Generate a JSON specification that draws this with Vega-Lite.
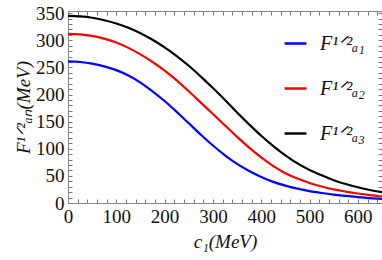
{
  "$schema": "https://vega.github.io/schema/vega-lite/v6.json",
  "width": 314,
  "height": 192,
  "autosize": {"type": "none"},
  "padding": {"left": 68, "top": 11, "right": 0, "bottom": 57},
  "background": "white",
  "config": {
    "font": "Liberation Serif",
    "view": {"stroke": null},
    "axis": {
      "labelFont": "Liberation Serif",
      "labelFontSize": 19,
      "labelColor": "#111",
      "titleFont": "Liberation Serif",
      "titleFontSize": 19,
      "titleFontStyle": "italic",
      "titleFontWeight": "normal",
      "titleColor": "#111",
      "domainColor": "#888",
      "tickColor": "#777",
      "tickWidth": 1,
      "grid": false
    }
  },
  "data": {
    "values": [
      {"c": 0, "F": 261, "s": "F¹ᐟ²ₐ₁"}, {"c": 25, "F": 260, "s": "F¹ᐟ²ₐ₁"}, {"c": 50, "F": 257, "s": "F¹ᐟ²ₐ₁"}, {"c": 75, "F": 252, "s": "F¹ᐟ²ₐ₁"}, {"c": 100, "F": 245, "s": "F¹ᐟ²ₐ₁"}, {"c": 125, "F": 235, "s": "F¹ᐟ²ₐ₁"}, {"c": 150, "F": 222, "s": "F¹ᐟ²ₐ₁"}, {"c": 175, "F": 206, "s": "F¹ᐟ²ₐ₁"}, {"c": 200, "F": 188, "s": "F¹ᐟ²ₐ₁"}, {"c": 225, "F": 168, "s": "F¹ᐟ²ₐ₁"}, {"c": 250, "F": 147, "s": "F¹ᐟ²ₐ₁"}, {"c": 275, "F": 126, "s": "F¹ᐟ²ₐ₁"}, {"c": 300, "F": 106, "s": "F¹ᐟ²ₐ₁"}, {"c": 325, "F": 88, "s": "F¹ᐟ²ₐ₁"}, {"c": 350, "F": 72, "s": "F¹ᐟ²ₐ₁"}, {"c": 375, "F": 59, "s": "F¹ᐟ²ₐ₁"}, {"c": 400, "F": 48, "s": "F¹ᐟ²ₐ₁"}, {"c": 425, "F": 39, "s": "F¹ᐟ²ₐ₁"}, {"c": 450, "F": 32, "s": "F¹ᐟ²ₐ₁"}, {"c": 475, "F": 26.5, "s": "F¹ᐟ²ₐ₁"}, {"c": 500, "F": 22, "s": "F¹ᐟ²ₐ₁"}, {"c": 525, "F": 18.5, "s": "F¹ᐟ²ₐ₁"}, {"c": 550, "F": 15.5, "s": "F¹ᐟ²ₐ₁"}, {"c": 575, "F": 13, "s": "F¹ᐟ²ₐ₁"}, {"c": 600, "F": 11, "s": "F¹ᐟ²ₐ₁"}, {"c": 625, "F": 9, "s": "F¹ᐟ²ₐ₁"}, {"c": 650, "F": 7.5, "s": "F¹ᐟ²ₐ₁"},
      {"c": 0, "F": 312, "s": "F¹ᐟ²ₐ₂"}, {"c": 25, "F": 311, "s": "F¹ᐟ²ₐ₂"}, {"c": 50, "F": 308, "s": "F¹ᐟ²ₐ₂"}, {"c": 75, "F": 303, "s": "F¹ᐟ²ₐ₂"}, {"c": 100, "F": 296, "s": "F¹ᐟ²ₐ₂"}, {"c": 125, "F": 286, "s": "F¹ᐟ²ₐ₂"}, {"c": 150, "F": 274, "s": "F¹ᐟ²ₐ₂"}, {"c": 175, "F": 260, "s": "F¹ᐟ²ₐ₂"}, {"c": 200, "F": 244, "s": "F¹ᐟ²ₐ₂"}, {"c": 225, "F": 226, "s": "F¹ᐟ²ₐ₂"}, {"c": 250, "F": 206, "s": "F¹ᐟ²ₐ₂"}, {"c": 275, "F": 185, "s": "F¹ᐟ²ₐ₂"}, {"c": 300, "F": 164, "s": "F¹ᐟ²ₐ₂"}, {"c": 325, "F": 143, "s": "F¹ᐟ²ₐ₂"}, {"c": 350, "F": 122, "s": "F¹ᐟ²ₐ₂"}, {"c": 375, "F": 102, "s": "F¹ᐟ²ₐ₂"}, {"c": 400, "F": 84, "s": "F¹ᐟ²ₐ₂"}, {"c": 425, "F": 68, "s": "F¹ᐟ²ₐ₂"}, {"c": 450, "F": 55, "s": "F¹ᐟ²ₐ₂"}, {"c": 475, "F": 45, "s": "F¹ᐟ²ₐ₂"}, {"c": 500, "F": 37, "s": "F¹ᐟ²ₐ₂"}, {"c": 525, "F": 30.5, "s": "F¹ᐟ²ₐ₂"}, {"c": 550, "F": 25, "s": "F¹ᐟ²ₐ₂"}, {"c": 575, "F": 21, "s": "F¹ᐟ²ₐ₂"}, {"c": 600, "F": 17.5, "s": "F¹ᐟ²ₐ₂"}, {"c": 625, "F": 14.5, "s": "F¹ᐟ²ₐ₂"}, {"c": 650, "F": 12, "s": "F¹ᐟ²ₐ₂"},
      {"c": 0, "F": 345, "s": "F¹ᐟ²ₐ₃"}, {"c": 25, "F": 344, "s": "F¹ᐟ²ₐ₃"}, {"c": 50, "F": 341.5, "s": "F¹ᐟ²ₐ₃"}, {"c": 75, "F": 337, "s": "F¹ᐟ²ₐ₃"}, {"c": 100, "F": 331, "s": "F¹ᐟ²ₐ₃"}, {"c": 125, "F": 323, "s": "F¹ᐟ²ₐ₃"}, {"c": 150, "F": 313, "s": "F¹ᐟ²ₐ₃"}, {"c": 175, "F": 301, "s": "F¹ᐟ²ₐ₃"}, {"c": 200, "F": 287, "s": "F¹ᐟ²ₐ₃"}, {"c": 225, "F": 271, "s": "F¹ᐟ²ₐ₃"}, {"c": 250, "F": 253, "s": "F¹ᐟ²ₐ₃"}, {"c": 275, "F": 233, "s": "F¹ᐟ²ₐ₃"}, {"c": 300, "F": 212, "s": "F¹ᐟ²ₐ₃"}, {"c": 325, "F": 190, "s": "F¹ᐟ²ₐ₃"}, {"c": 350, "F": 167, "s": "F¹ᐟ²ₐ₃"}, {"c": 375, "F": 145, "s": "F¹ᐟ²ₐ₃"}, {"c": 400, "F": 124, "s": "F¹ᐟ²ₐ₃"}, {"c": 425, "F": 105, "s": "F¹ᐟ²ₐ₃"}, {"c": 450, "F": 88, "s": "F¹ᐟ²ₐ₃"}, {"c": 475, "F": 73, "s": "F¹ᐟ²ₐ₃"}, {"c": 500, "F": 61, "s": "F¹ᐟ²ₐ₃"}, {"c": 525, "F": 51, "s": "F¹ᐟ²ₐ₃"}, {"c": 550, "F": 42, "s": "F¹ᐟ²ₐ₃"}, {"c": 575, "F": 35, "s": "F¹ᐟ²ₐ₃"}, {"c": 600, "F": 29, "s": "F¹ᐟ²ₐ₃"}, {"c": 625, "F": 24, "s": "F¹ᐟ²ₐ₃"}, {"c": 650, "F": 20, "s": "F¹ᐟ²ₐ₃"}
    ]
  },
  "resolve": {"axis": {"x": "independent", "y": "independent"}},
  "layer": [
    {
      "mark": {"type": "line", "strokeWidth": 2.2, "interpolate": "monotone", "clip": true},
      "encoding": {
        "x": {
          "field": "c", "type": "quantitative",
          "scale": {"domain": [0, 650], "nice": false, "zero": false},
          "axis": {
            "orient": "bottom",
            "title": "c₁(MeV)",
            "titlePadding": 6,
            "values": [0,20,40,60,80,100,120,140,160,180,200,220,240,260,280,300,320,340,360,380,400,420,440,460,480,500,520,540,560,580,600,620,640],
            "labelExpr": "datum.value % 100 === 0 ? datum.label : ''",
            "tickSize": -4,
            "labelPadding": 8,
            "labelFlush": false,
            "labelOverlap": false
          }
        },
        "y": {
          "field": "F", "type": "quantitative",
          "scale": {"domain": [0, 354], "nice": false},
          "axis": {
            "orient": "left",
            "title": "F¹ᐟ²ₐₙ(MeV)",
            "titlePadding": 2,
            "values": [0,10,20,30,40,50,60,70,80,90,100,110,120,130,140,150,160,170,180,190,200,210,220,230,240,250,260,270,280,290,300,310,320,330,340,350],
            "labelExpr": "datum.value % 50 === 0 ? datum.label : ''",
            "tickSize": -4,
            "labelPadding": 8,
            "labelFlush": false,
            "labelOverlap": false
          }
        },
        "color": {
          "field": "s", "type": "nominal",
          "scale": {"domain": ["F¹ᐟ²ₐ₁", "F¹ᐟ²ₐ₂", "F¹ᐟ²ₐ₃"], "range": ["#0000ff", "#ff0000", "#000000"]},
          "legend": {
            "orient": "none",
            "legendX": 215,
            "legendY": 20,
            "title": null,
            "symbolType": "stroke",
            "symbolSize": 480,
            "symbolStrokeWidth": 2.5,
            "labelFont": "Liberation Serif",
            "labelFontSize": 20,
            "labelFontStyle": "italic",
            "labelColor": "#111",
            "labelOffset": 12,
            "rowPadding": 22
          }
        }
      }
    },
    {
      "mark": {"type": "line", "opacity": 0},
      "encoding": {
        "x": {
          "field": "c", "type": "quantitative",
          "scale": {"domain": [0, 650], "nice": false, "zero": false},
          "axis": {
            "orient": "top", "title": null, "labels": false,
            "values": [0,20,40,60,80,100,120,140,160,180,200,220,240,260,280,300,320,340,360,380,400,420,440,460,480,500,520,540,560,580,600,620,640],
            "tickSize": -4
          }
        },
        "y": {
          "field": "F", "type": "quantitative",
          "scale": {"domain": [0, 354], "nice": false},
          "axis": {
            "orient": "right", "title": null, "labels": false,
            "values": [0,10,20,30,40,50,60,70,80,90,100,110,120,130,140,150,160,170,180,190,200,210,220,230,240,250,260,270,280,290,300,310,320,330,340,350],
            "tickSize": -4
          }
        },
        "detail": {"field": "s", "type": "nominal"}
      }
    }
  ]
}
